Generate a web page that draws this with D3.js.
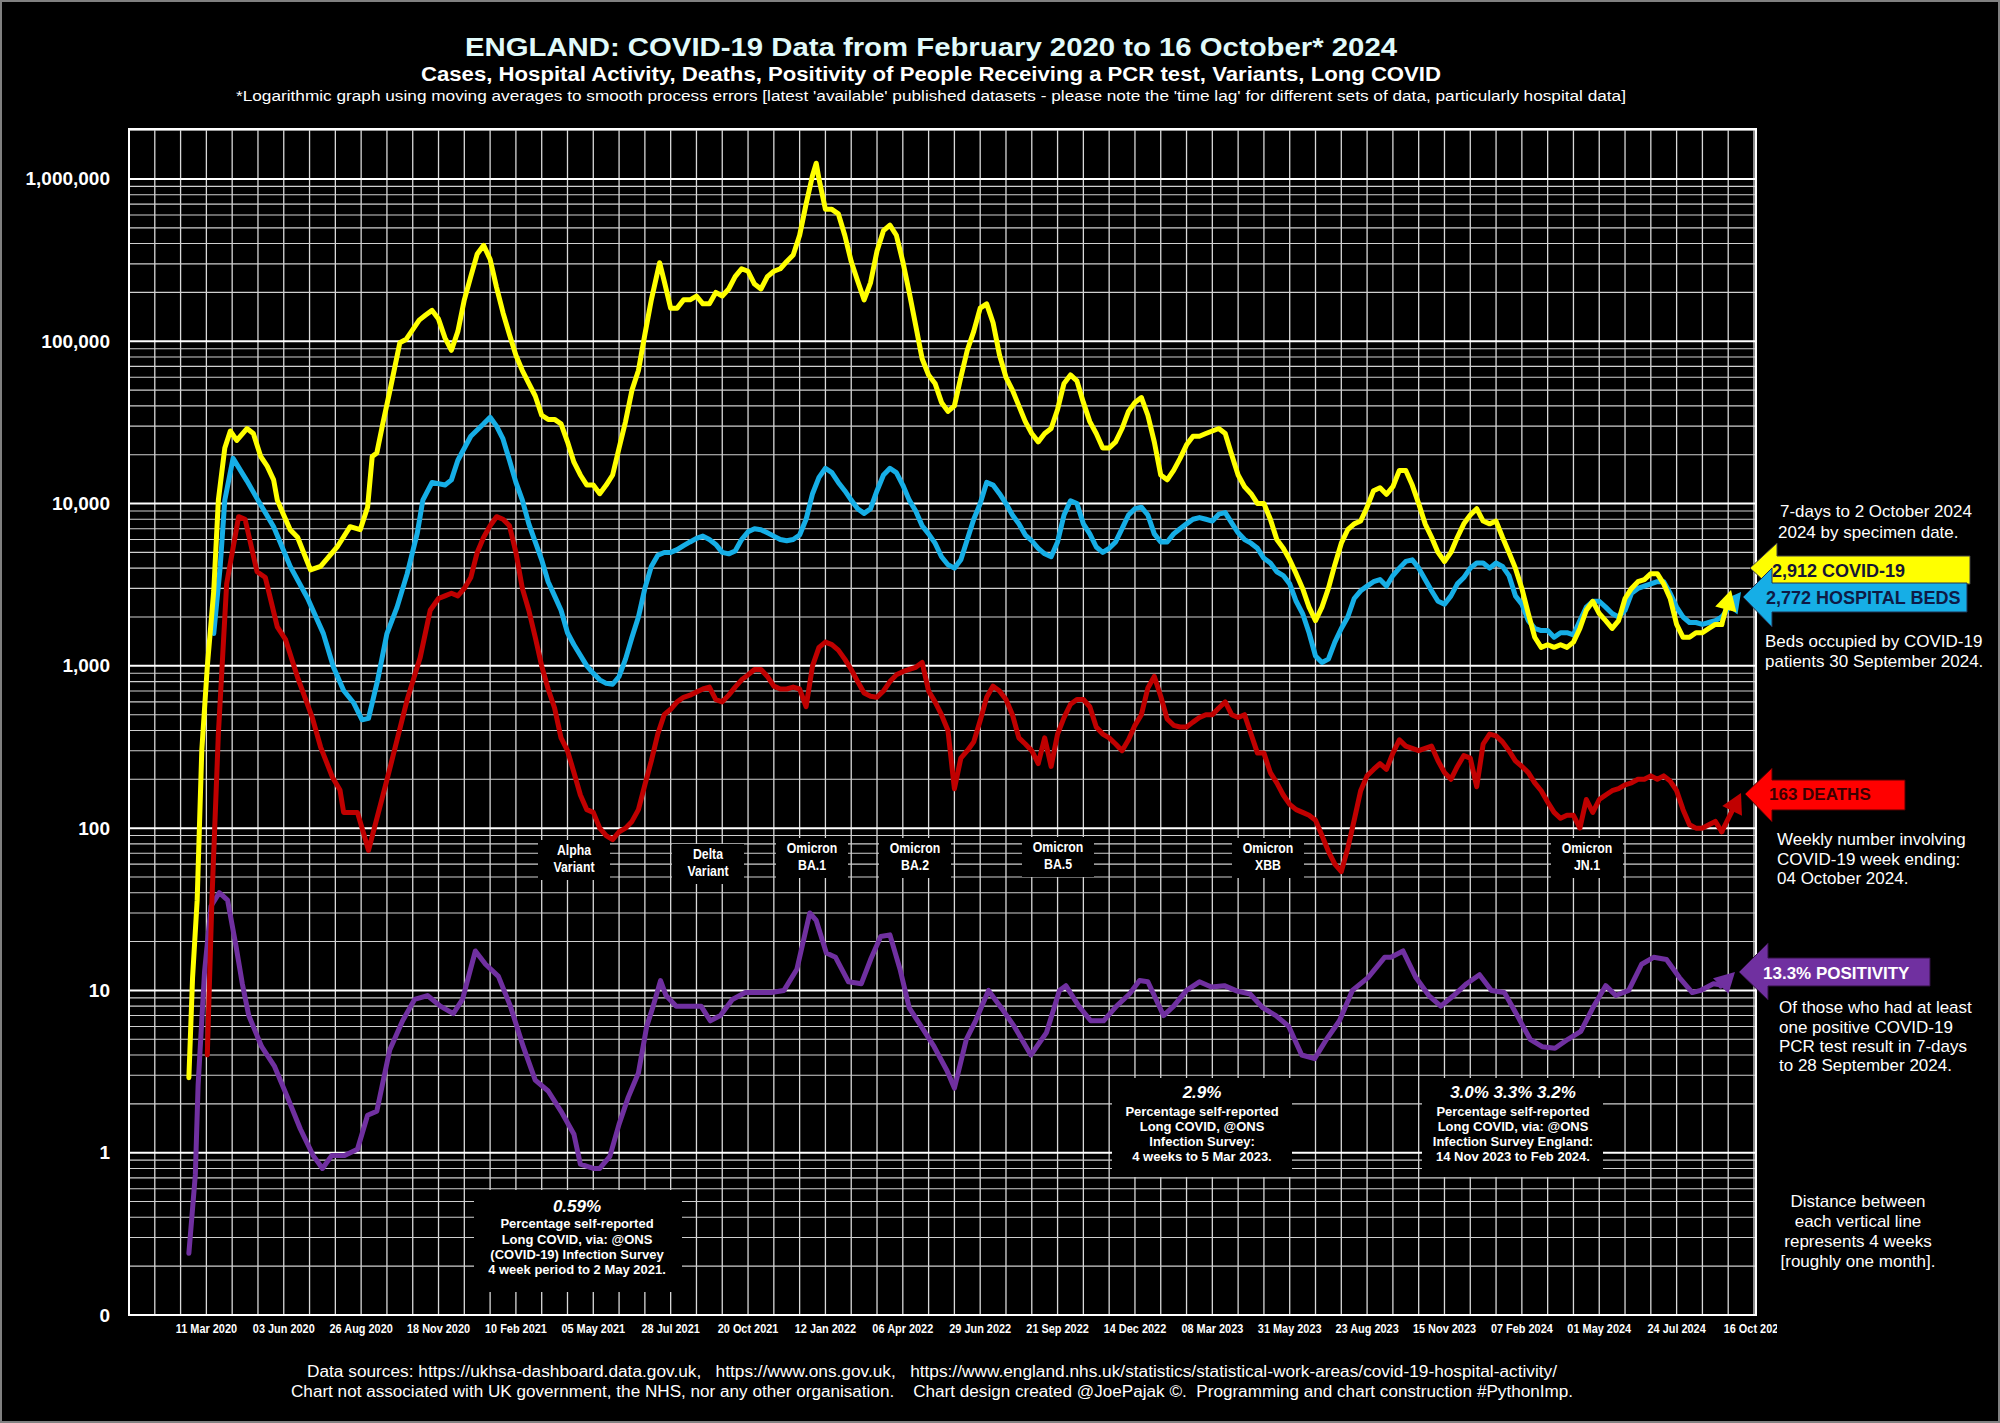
<!DOCTYPE html>
<html><head><meta charset="utf-8">
<script src="https://cdn.jsdelivr.net/npm/d3@7"></script>
<style>html,body{margin:0;padding:0;background:#000;} svg{display:block;}</style>
</head><body><svg id="chart" width="2000" height="1423"></svg>
<script>
const cases = [["2020-02-21",2.9],["2020-02-25",12],["2020-03-01",36],["2020-03-06",300],["2020-03-12",990],["2020-03-19",2900],["2020-03-24",10500],["2020-03-31",22000],["2020-04-06",28000],["2020-04-13",24500],["2020-04-24",29000],["2020-05-01",27000],["2020-05-09",19500],["2020-05-16",17000],["2020-05-23",14000],["2020-05-27",10500],["2020-06-01",9000],["2020-06-10",6900],["2020-06-18",6200],["2020-07-02",3900],["2020-07-13",4100],["2020-07-31",5400],["2020-08-14",7200],["2020-08-25",6900],["2020-09-02",9500],["2020-09-07",19500],["2020-09-12",20500],["2020-09-19",32000],["2020-09-27",52000],["2020-10-07",98000],["2020-10-14",103000],["2020-10-21",118000],["2020-10-28",135000],["2020-11-04",145000],["2020-11-11",155000],["2020-11-18",137000],["2020-11-25",105000],["2020-12-02",88000],["2020-12-09",115000],["2020-12-16",180000],["2020-12-23",250000],["2020-12-30",345000],["2021-01-06",390000],["2021-01-13",320000],["2021-01-20",215000],["2021-01-27",150000],["2021-02-03",110000],["2021-02-10",82000],["2021-02-17",66000],["2021-02-24",55000],["2021-03-03",46000],["2021-03-10",35000],["2021-03-17",33000],["2021-03-24",33000],["2021-03-31",31000],["2021-04-07",24000],["2021-04-14",18000],["2021-04-21",15000],["2021-04-28",13000],["2021-05-05",13000],["2021-05-12",11500],["2021-05-19",13000],["2021-05-26",15000],["2021-06-02",22000],["2021-06-09",32000],["2021-06-16",50000],["2021-06-23",66000],["2021-06-30",110000],["2021-07-07",180000],["2021-07-16",305000],["2021-07-21",235000],["2021-07-28",160000],["2021-08-04",160000],["2021-08-11",180000],["2021-08-18",180000],["2021-08-25",190000],["2021-09-01",170000],["2021-09-08",170000],["2021-09-15",200000],["2021-09-22",190000],["2021-09-29",210000],["2021-10-06",250000],["2021-10-13",280000],["2021-10-20",270000],["2021-10-27",225000],["2021-11-03",210000],["2021-11-10",250000],["2021-11-17",270000],["2021-11-24",280000],["2021-12-01",310000],["2021-12-08",340000],["2021-12-15",450000],["2021-12-22",700000],["2021-12-29",1050000],["2022-01-02",1250000],["2022-01-05",1000000],["2022-01-12",650000],["2022-01-19",650000],["2022-01-26",610000],["2022-02-02",450000],["2022-02-09",310000],["2022-02-16",235000],["2022-02-23",180000],["2022-03-02",230000],["2022-03-09",360000],["2022-03-16",480000],["2022-03-23",520000],["2022-03-30",450000],["2022-04-06",310000],["2022-04-13",200000],["2022-04-20",125000],["2022-04-27",78000],["2022-05-04",62000],["2022-05-11",55000],["2022-05-18",42000],["2022-05-25",37000],["2022-06-01",40000],["2022-06-08",60000],["2022-06-15",88000],["2022-06-22",115000],["2022-06-29",160000],["2022-07-06",170000],["2022-07-13",130000],["2022-07-20",82000],["2022-07-27",60000],["2022-08-03",50000],["2022-08-10",40000],["2022-08-17",32000],["2022-08-24",27000],["2022-08-31",24000],["2022-09-07",27000],["2022-09-14",29000],["2022-09-21",38000],["2022-09-28",55000],["2022-10-05",62000],["2022-10-12",57000],["2022-10-19",42000],["2022-10-26",32000],["2022-11-02",27000],["2022-11-09",22000],["2022-11-16",22000],["2022-11-23",24000],["2022-11-30",29000],["2022-12-07",37000],["2022-12-14",42000],["2022-12-21",45000],["2022-12-28",35000],["2023-01-04",24000],["2023-01-11",15000],["2023-01-18",14000],["2023-01-25",16000],["2023-02-01",19000],["2023-02-08",23000],["2023-02-15",26000],["2023-02-22",26000],["2023-03-01",27000],["2023-03-08",28000],["2023-03-15",29000],["2023-03-22",27000],["2023-03-29",20000],["2023-04-05",15000],["2023-04-12",12700],["2023-04-19",11500],["2023-04-26",10000],["2023-05-03",10000],["2023-05-10",8000],["2023-05-17",6000],["2023-05-24",5300],["2023-05-31",4500],["2023-06-07",3700],["2023-06-14",3000],["2023-06-21",2300],["2023-06-28",1900],["2023-07-05",2300],["2023-07-12",3000],["2023-07-19",4200],["2023-07-26",5700],["2023-08-02",6900],["2023-08-09",7500],["2023-08-16",7800],["2023-08-23",9500],["2023-08-30",12000],["2023-09-06",12500],["2023-09-13",11400],["2023-09-20",12700],["2023-09-27",16000],["2023-10-04",16000],["2023-10-11",13000],["2023-10-18",10000],["2023-10-25",7500],["2023-11-01",6200],["2023-11-08",5000],["2023-11-15",4400],["2023-11-22",5000],["2023-11-29",6200],["2023-12-06",7500],["2023-12-13",8500],["2023-12-20",9300],["2023-12-27",7800],["2024-01-03",7500],["2024-01-10",7800],["2024-01-17",6200],["2024-01-24",5000],["2024-01-31",4000],["2024-02-07",3000],["2024-02-14",2100],["2024-02-21",1500],["2024-02-28",1300],["2024-03-06",1350],["2024-03-13",1300],["2024-03-20",1350],["2024-03-27",1300],["2024-04-03",1400],["2024-04-10",1700],["2024-04-17",2200],["2024-04-24",2500],["2024-05-01",2100],["2024-05-08",1900],["2024-05-15",1700],["2024-05-22",1900],["2024-05-29",2600],["2024-06-05",3000],["2024-06-12",3300],["2024-06-19",3400],["2024-06-26",3700],["2024-07-03",3700],["2024-07-10",3200],["2024-07-17",2600],["2024-07-24",1800],["2024-07-31",1500],["2024-08-07",1500],["2024-08-14",1600],["2024-08-21",1600],["2024-08-28",1700],["2024-09-04",1800],["2024-09-11",1800]];

const beds = [["2020-03-19",1580],["2020-03-26",4100],["2020-03-31",10500],["2020-04-09",19000],["2020-04-24",13800],["2020-05-06",10500],["2020-05-23",7200],["2020-06-10",4100],["2020-06-29",2600],["2020-07-16",1580],["2020-07-27",980],["2020-08-07",705],["2020-08-18",590],["2020-08-27",465],["2020-09-03",475],["2020-09-13",820],["2020-09-23",1580],["2020-10-04",2300],["2020-10-15",3700],["2020-10-26",6600],["2020-11-01",10500],["2020-11-11",13500],["2020-11-25",13000],["2020-12-02",14000],["2020-12-09",18500],["2020-12-23",26000],["2021-01-06",31000],["2021-01-13",34000],["2021-01-20",30000],["2021-01-27",25000],["2021-02-03",18500],["2021-02-10",13500],["2021-02-17",10500],["2021-02-24",7500],["2021-03-03",5800],["2021-03-10",4500],["2021-03-17",3300],["2021-03-24",2700],["2021-03-31",2200],["2021-04-07",1600],["2021-04-14",1350],["2021-04-28",1000],["2021-05-05",900],["2021-05-12",820],["2021-05-19",780],["2021-05-26",770],["2021-06-02",860],["2021-06-09",1100],["2021-06-16",1500],["2021-06-23",2000],["2021-06-30",3000],["2021-07-07",4100],["2021-07-14",4800],["2021-07-21",5000],["2021-07-28",5000],["2021-08-04",5200],["2021-08-11",5500],["2021-08-18",5800],["2021-08-25",6100],["2021-09-01",6300],["2021-09-08",6000],["2021-09-15",5600],["2021-09-22",5000],["2021-09-29",4900],["2021-10-06",5100],["2021-10-13",6000],["2021-10-20",6700],["2021-10-27",7000],["2021-11-03",6900],["2021-11-10",6600],["2021-11-17",6300],["2021-11-24",6000],["2021-12-01",5900],["2021-12-08",6000],["2021-12-15",6400],["2021-12-22",8000],["2021-12-29",11500],["2022-01-05",14500],["2022-01-12",16500],["2022-01-19",15500],["2022-01-26",13500],["2022-02-02",12000],["2022-02-09",10500],["2022-02-16",9300],["2022-02-23",8700],["2022-03-02",9300],["2022-03-09",12000],["2022-03-16",15000],["2022-03-23",16500],["2022-03-30",15500],["2022-04-06",13000],["2022-04-13",10500],["2022-04-20",9000],["2022-04-27",7300],["2022-05-04",6500],["2022-05-11",5700],["2022-05-18",4700],["2022-05-25",4200],["2022-06-01",4000],["2022-06-08",4500],["2022-06-15",6000],["2022-06-22",8000],["2022-06-29",10000],["2022-07-06",13500],["2022-07-13",13000],["2022-07-20",11500],["2022-07-27",10000],["2022-08-03",8500],["2022-08-10",7500],["2022-08-17",6400],["2022-08-24",5900],["2022-08-31",5300],["2022-09-07",4900],["2022-09-14",4700],["2022-09-21",5800],["2022-09-28",8500],["2022-10-05",10400],["2022-10-12",10000],["2022-10-19",7500],["2022-10-26",6500],["2022-11-02",5400],["2022-11-09",5000],["2022-11-16",5300],["2022-11-23",5800],["2022-11-30",7000],["2022-12-07",8500],["2022-12-14",9300],["2022-12-21",9500],["2022-12-28",8500],["2023-01-04",6500],["2023-01-11",5800],["2023-01-18",5800],["2023-01-25",6500],["2023-02-01",7000],["2023-02-08",7500],["2023-02-15",8000],["2023-02-22",8200],["2023-03-01",8000],["2023-03-08",7800],["2023-03-15",8600],["2023-03-22",8800],["2023-03-29",7600],["2023-04-05",6600],["2023-04-12",6000],["2023-04-19",5700],["2023-04-26",5300],["2023-05-03",4600],["2023-05-10",4300],["2023-05-17",3800],["2023-05-24",3600],["2023-05-31",3200],["2023-06-07",2500],["2023-06-14",2100],["2023-06-21",1600],["2023-06-28",1150],["2023-07-05",1050],["2023-07-12",1100],["2023-07-19",1400],["2023-07-26",1700],["2023-08-02",2000],["2023-08-09",2600],["2023-08-16",2900],["2023-08-23",3100],["2023-08-30",3300],["2023-09-06",3400],["2023-09-13",3100],["2023-09-20",3600],["2023-09-27",4000],["2023-10-04",4400],["2023-10-11",4500],["2023-10-18",4000],["2023-10-25",3400],["2023-11-01",2900],["2023-11-08",2500],["2023-11-15",2400],["2023-11-22",2700],["2023-11-29",3200],["2023-12-06",3500],["2023-12-13",4000],["2023-12-20",4300],["2023-12-27",4300],["2024-01-03",4000],["2024-01-10",4300],["2024-01-17",4100],["2024-01-24",3600],["2024-01-31",2700],["2024-02-07",2400],["2024-02-14",1900],["2024-02-21",1700],["2024-02-28",1650],["2024-03-06",1650],["2024-03-13",1500],["2024-03-20",1600],["2024-03-27",1600],["2024-04-03",1550],["2024-04-10",1900],["2024-04-17",2300],["2024-04-24",2500],["2024-05-01",2500],["2024-05-08",2300],["2024-05-15",2100],["2024-05-22",2000],["2024-05-29",2200],["2024-06-05",2800],["2024-06-12",3000],["2024-06-19",3100],["2024-06-26",3200],["2024-07-03",3300],["2024-07-10",3300],["2024-07-17",2800],["2024-07-24",2300],["2024-07-31",2000],["2024-08-07",1850],["2024-08-14",1850],["2024-08-21",1800],["2024-08-28",1850],["2024-09-04",1900],["2024-09-11",2000]];

const deaths = [["2020-03-12",4],["2020-03-17",36],["2020-03-24",380],["2020-04-02",3200],["2020-04-15",8300],["2020-04-22",8000],["2020-05-05",3800],["2020-05-14",3500],["2020-05-27",1740],["2020-06-05",1450],["2020-06-18",850],["2020-07-04",480],["2020-07-13",316],["2020-07-26",205],["2020-08-03",172],["2020-08-07",125],["2020-08-22",125],["2020-09-03",73],["2020-09-23",198],["2020-10-15",620],["2020-10-29",1120],["2020-11-09",2200],["2020-11-18",2600],["2020-11-25",2700],["2020-12-02",2800],["2020-12-09",2700],["2020-12-16",3000],["2020-12-23",3500],["2020-12-30",5000],["2021-01-06",6200],["2021-01-13",7300],["2021-01-20",8300],["2021-01-27",8000],["2021-02-03",7300],["2021-02-10",5000],["2021-02-17",3000],["2021-02-24",2200],["2021-03-03",1500],["2021-03-10",1000],["2021-03-17",720],["2021-03-24",550],["2021-03-31",360],["2021-04-07",300],["2021-04-14",220],["2021-04-21",160],["2021-04-28",130],["2021-05-05",125],["2021-05-12",100],["2021-05-19",90],["2021-05-26",85],["2021-06-02",95],["2021-06-09",100],["2021-06-16",110],["2021-06-23",130],["2021-06-30",185],["2021-07-07",260],["2021-07-14",380],["2021-07-21",500],["2021-07-28",540],["2021-08-04",600],["2021-08-11",640],["2021-08-18",660],["2021-08-25",690],["2021-09-01",720],["2021-09-08",740],["2021-09-15",620],["2021-09-22",600],["2021-09-29",660],["2021-10-06",740],["2021-10-13",820],["2021-10-20",880],["2021-10-27",950],["2021-11-03",950],["2021-11-10",860],["2021-11-17",750],["2021-11-24",720],["2021-12-01",720],["2021-12-08",740],["2021-12-15",720],["2021-12-22",560],["2021-12-29",1000],["2022-01-05",1300],["2022-01-12",1400],["2022-01-19",1350],["2022-01-26",1250],["2022-02-02",1100],["2022-02-09",950],["2022-02-16",800],["2022-02-23",680],["2022-03-02",650],["2022-03-09",640],["2022-03-16",700],["2022-03-23",800],["2022-03-30",880],["2022-04-06",920],["2022-04-13",950],["2022-04-20",980],["2022-04-27",1050],["2022-05-04",700],["2022-05-11",600],["2022-05-18",500],["2022-05-25",400],["2022-06-01",175],["2022-06-08",270],["2022-06-15",300],["2022-06-22",340],["2022-06-29",460],["2022-07-06",640],["2022-07-13",750],["2022-07-20",700],["2022-07-27",620],["2022-08-03",500],["2022-08-10",360],["2022-08-17",330],["2022-08-24",300],["2022-08-31",250],["2022-09-07",360],["2022-09-14",240],["2022-09-21",380],["2022-09-28",480],["2022-10-05",580],["2022-10-12",620],["2022-10-19",620],["2022-10-26",560],["2022-11-02",420],["2022-11-09",380],["2022-11-16",360],["2022-11-23",330],["2022-11-30",300],["2022-12-07",350],["2022-12-14",430],["2022-12-21",500],["2022-12-28",730],["2023-01-04",860],["2023-01-11",650],["2023-01-18",470],["2023-01-25",430],["2023-02-01",420],["2023-02-08",420],["2023-02-15",450],["2023-02-22",480],["2023-03-01",500],["2023-03-08",500],["2023-03-15",550],["2023-03-22",600],["2023-03-29",500],["2023-04-05",480],["2023-04-12",500],["2023-04-19",380],["2023-04-26",290],["2023-05-03",290],["2023-05-10",220],["2023-05-17",190],["2023-05-24",160],["2023-05-31",140],["2023-06-07",130],["2023-06-14",125],["2023-06-21",120],["2023-06-28",112],["2023-07-05",90],["2023-07-12",72],["2023-07-19",60],["2023-07-26",54],["2023-08-02",75],["2023-08-09",112],["2023-08-16",170],["2023-08-23",210],["2023-08-30",230],["2023-09-06",250],["2023-09-13",230],["2023-09-20",290],["2023-09-27",350],["2023-10-04",320],["2023-10-11",310],["2023-10-18",300],["2023-10-25",310],["2023-11-01",320],["2023-11-08",260],["2023-11-15",220],["2023-11-22",200],["2023-11-29",240],["2023-12-06",280],["2023-12-13",270],["2023-12-20",180],["2023-12-27",330],["2024-01-03",380],["2024-01-10",370],["2024-01-17",340],["2024-01-24",300],["2024-01-31",260],["2024-02-07",240],["2024-02-14",220],["2024-02-21",190],["2024-02-28",170],["2024-03-06",145],["2024-03-13",125],["2024-03-20",115],["2024-03-27",120],["2024-04-03",120],["2024-04-10",100],["2024-04-17",150],["2024-04-24",125],["2024-05-01",150],["2024-05-08",160],["2024-05-15",170],["2024-05-22",175],["2024-05-29",185],["2024-06-05",190],["2024-06-12",200],["2024-06-19",200],["2024-06-26",210],["2024-07-03",200],["2024-07-10",210],["2024-07-17",195],["2024-07-24",170],["2024-07-31",130],["2024-08-07",105],["2024-08-14",100],["2024-08-21",100],["2024-08-28",105],["2024-09-04",110],["2024-09-11",95]];

const positivity = [["2020-02-21",0.24],["2020-02-28",0.73],["2020-03-02",2.6],["2020-03-09",13],["2020-03-16",33],["2020-03-25",40],["2020-04-03",36],["2020-04-12",19],["2020-04-19",11],["2020-04-26",7],["2020-05-10",4.5],["2020-05-24",3.4],["2020-06-07",2.2],["2020-06-21",1.4],["2020-07-05",0.96],["2020-07-15",0.8],["2020-07-25",0.96],["2020-08-08",0.96],["2020-08-22",1.05],["2020-09-02",1.7],["2020-09-12",1.8],["2020-09-26",4.3],["2020-10-10",6.5],["2020-10-23",8.8],["2020-11-06",9.3],["2020-11-20",8],["2020-12-04",7.2],["2020-12-14",8.8],["2020-12-28",17.5],["2021-01-08",14.5],["2021-01-22",12.2],["2021-02-04",8],["2021-02-18",4.5],["2021-03-03",2.8],["2021-03-17",2.4],["2021-03-31",1.8],["2021-04-14",1.3],["2021-04-21",0.85],["2021-05-05",0.8],["2021-05-12",0.8],["2021-05-23",0.95],["2021-06-02",1.5],["2021-06-12",2.2],["2021-06-23",3.1],["2021-07-02",6],["2021-07-09",8],["2021-07-17",11.5],["2021-07-23",9.3],["2021-08-03",8],["2021-08-16",8],["2021-08-30",8],["2021-09-09",6.5],["2021-09-20",7],["2021-10-03",8.8],["2021-10-17",9.7],["2021-10-31",9.7],["2021-11-14",9.7],["2021-11-28",10],["2021-12-12",13.5],["2021-12-26",30],["2022-01-02",27],["2022-01-13",17],["2022-01-23",16],["2022-02-06",11.3],["2022-02-20",11],["2022-03-02",15.5],["2022-03-13",21.5],["2022-03-23",22],["2022-04-03",13.5],["2022-04-13",7.8],["2022-04-26",6],["2022-05-10",4.5],["2022-05-24",3.2],["2022-06-01",2.5],["2022-06-14",5],["2022-06-24",6.5],["2022-07-08",10],["2022-07-22",7.8],["2022-08-05",6],["2022-08-23",4],["2022-09-09",5.5],["2022-09-23",10],["2022-09-30",10.7],["2022-10-14",8],["2022-10-27",6.5],["2022-11-10",6.5],["2022-11-24",8],["2022-12-08",9.5],["2022-12-19",11.5],["2022-12-28",11.3],["2023-01-14",7],["2023-01-25",8],["2023-02-08",10],["2023-02-22",11.3],["2023-03-07",10.5],["2023-03-21",10.7],["2023-04-04",9.9],["2023-04-18",9.5],["2023-05-02",7.8],["2023-05-16",7],["2023-05-30",6],["2023-06-13",4],["2023-06-27",3.8],["2023-07-10",5],["2023-07-24",6.5],["2023-08-07",10],["2023-08-24",12],["2023-09-11",16],["2023-09-18",16],["2023-10-01",17.5],["2023-10-15",12],["2023-10-29",9.3],["2023-11-11",8],["2023-11-25",9.3],["2023-12-09",11],["2023-12-23",12.5],["2024-01-05",10],["2024-01-19",9.7],["2024-02-02",7],["2024-02-16",5],["2024-02-29",4.5],["2024-03-14",4.4],["2024-03-28",5],["2024-04-11",5.6],["2024-04-25",8],["2024-05-08",10.7],["2024-05-19",9.3],["2024-06-02",10],["2024-06-16",14.5],["2024-06-29",16],["2024-07-13",15.5],["2024-07-27",12],["2024-08-10",9.7],["2024-08-19",10],["2024-09-02",11],["2024-09-11",10.8]];

const xTickDates = ["2020-03-11","2020-06-03","2020-08-26","2020-11-18","2021-02-10","2021-05-05","2021-07-28","2021-10-20","2022-01-12","2022-04-06","2022-06-29","2022-09-21","2022-12-14","2023-03-08","2023-05-31","2023-08-23","2023-11-15","2024-02-07","2024-05-01","2024-07-24","2024-10-16"];
const xTickLabels = ["11 Mar 2020","03 Jun 2020","26 Aug 2020","18 Nov 2020","10 Feb 2021","05 May 2021","28 Jul 2021","20 Oct 2021","12 Jan 2022","06 Apr 2022","29 Jun 2022","21 Sep 2022","14 Dec 2022","08 Mar 2023","31 May 2023","23 Aug 2023","15 Nov 2023","07 Feb 2024","01 May 2024","24 Jul 2024","16 Oct 2024"];
const yTickValues = [1000000,100000,10000,1000,100,10,1,0.1];
const yTickLabels = ["1,000,000","100,000","10,000","1,000","100","10","1","0"];
const variantNames = [["Alpha","Variant"],["Delta","Variant"],["Omicron","BA.1"],["Omicron","BA.2"],["Omicron","BA.5"],["Omicron","XBB"],["Omicron","JN.1"]];
const longCovidTexts = [
  ["0.59%","Percentage self-reported","Long COVID, via: @ONS","(COVID-19) Infection Survey","4 week period to 2 May 2021."],
  ["2.9%","Percentage self-reported","Long COVID, @ONS","Infection Survey:","4 weeks to 5 Mar 2023."],
  ["3.0% 3.3% 3.2%","Percentage self-reported","Long COVID, via: @ONS","Infection Survey England:","14 Nov 2023  to Feb 2024."]
];

const W = 2000, H = 1423;
const FONT = "'Liberation Sans', Arial, Helvetica, sans-serif";
const parse = d3.utcParse("%Y-%m-%d");
const svg = d3.select("#chart").style("font-family", FONT);
svg.append("rect").attr("width", W).attr("height", H).attr("fill", "#000");
svg.append("rect").attr("x", 1).attr("y", 1).attr("width", W - 2).attr("height", H - 2)
  .attr("fill", "none").attr("stroke", "#808080").attr("stroke-width", 2);
svg.append("defs").append("clipPath").attr("id", "tickclip").append("rect")
  .attr("x", 0).attr("y", 1300).attr("width", 1777).attr("height", 60);

const P = {left: 129, right: 1756, top: 129, bottom: 1315};
const x = d3.scaleUtc().domain([parse("2019-12-18"), parse("2024-10-16")]).range([129, 1754]);
const y = d3.scaleLog().domain([0.1, Math.pow(10, 6.308)]).range([P.bottom, P.top]);

// grid
const grid = svg.append("g");
const vlines = d3.range(64).map(i => d3.utcDay.offset(x.domain()[0], 28 * i));
grid.selectAll("line.v").data(vlines).join("line")
  .attr("x1", d => x(d)).attr("x2", d => x(d)).attr("y1", P.top).attr("y2", P.bottom)
  .attr("stroke", "#d9d9d9").attr("stroke-width", 1.3);
const hticks = y.ticks();
const isMajor = d => Math.abs(Math.log10(d) - Math.round(Math.log10(d))) < 1e-6;
grid.selectAll("line.h").data(hticks).join("line")
  .attr("x1", P.left).attr("x2", P.right).attr("y1", d => y(d)).attr("y2", d => y(d))
  .attr("stroke", d => isMajor(d) ? "#ffffff" : "#cfcfcf")
  .attr("stroke-width", d => isMajor(d) ? 2 : 1.1);
svg.append("rect").attr("x", P.left).attr("y", P.top).attr("width", P.right - P.left).attr("height", P.bottom - P.top)
  .attr("fill", "none").attr("stroke", "#fff").attr("stroke-width", 2);

// y labels
svg.append("g").selectAll("text").data(yTickValues).join("text")
  .attr("x", 110).attr("y", d => y(d)).attr("text-anchor", "end").attr("dominant-baseline", "central")
  .attr("fill", "#fff").attr("font-weight", "bold").attr("font-size", 19)
  .text((d, i) => yTickLabels[i]);

// x labels
svg.append("g").attr("clip-path", "url(#tickclip)").selectAll("text").data(xTickDates).join("text")
  .attr("transform", d => `translate(${x(parse(d))},1333) scale(0.84,1)`)
  .attr("text-anchor", "middle").attr("fill", "#fff").attr("font-weight", "bold").attr("font-size", 13)
  .text((d, i) => xTickLabels[i]);

// variant boxes
const variantPos = [[574, 855], [708, 859], [812, 853], [915, 853], [1058, 852], [1268, 853], [1587, 853]];
const vg = svg.append("g");
variantNames.forEach((nm, i) => {
  const [cx, by] = variantPos[i];
  vg.append("rect").attr("x", cx - 36).attr("y", by - 15).attr("width", 72).attr("height", 40).attr("fill", "#000");
  nm.forEach((t, j) => {
    vg.append("text").attr("transform", `translate(${cx},${by + j * 17}) scale(0.82,1)`)
      .attr("text-anchor", "middle").attr("fill", "#fff").attr("font-weight", "bold").attr("font-size", 15).text(t);
  });
});

// long covid boxes
const lcBoxes = [
  {x0: 474, x1: 682, y0: 1190, y1: 1292, cx: 577, b: [1212, 1228, 1244, 1259, 1274]},
  {x0: 1112, x1: 1292, y0: 1078, y1: 1177, cx: 1202, b: [1098, 1116, 1131, 1146, 1161]},
  {x0: 1422, x1: 1603, y0: 1078, y1: 1177, cx: 1513, b: [1098, 1116, 1131, 1146, 1161]}
];
const lg = svg.append("g");
lcBoxes.forEach((bx, i) => {
  lg.append("rect").attr("x", bx.x0).attr("y", bx.y0).attr("width", bx.x1 - bx.x0).attr("height", bx.y1 - bx.y0).attr("fill", "#000");
  longCovidTexts[i].forEach((t, j) => {
    lg.append("text").attr("x", bx.cx).attr("y", bx.b[j]).attr("text-anchor", "middle").attr("fill", "#fff")
      .attr("font-weight", "bold").attr("font-style", j === 0 ? "italic" : "normal")
      .attr("font-size", j === 0 ? 17 : 13).text(t);
  });
});

// data lines
const line = d3.line().x(d => x(parse(d[0]))).y(d => y(d[1])).curve(d3.curveLinear);
const series = [
  {data: positivity, color: "#7030a0", tip: [1735, 972]},
  {data: deaths, color: "#c00000", tip: [1741, 793]},
  {data: beds, color: "#16aee6", tip: [1741, 592]},
  {data: cases, color: "#ffff00", tip: [1731, 590]}
];
const dl = svg.append("g");
series.forEach(s => {
  dl.append("path").datum(s.data).attr("d", line).attr("fill", "none").attr("stroke", s.color)
    .attr("stroke-width", 5).attr("stroke-linejoin", "round").attr("stroke-linecap", "round");
});
// end arrows
series.forEach(s => {
  const last = s.data[s.data.length - 1];
  const px = x(parse(last[0])), py = y(last[1]);
  const [tx, ty] = s.tip;
  const dx = tx - px, dy = ty - py, L = Math.hypot(dx, dy), ux = dx / L, uy = dy / L;
  const hl = 20, hw = 11;
  const bx = tx - ux * hl, by = ty - uy * hl;
  dl.append("line").attr("x1", px).attr("y1", py).attr("x2", bx).attr("y2", by)
    .attr("stroke", s.color).attr("stroke-width", 5).attr("stroke-linecap", "round");
  dl.append("polygon").attr("points", [[tx, ty], [bx - uy * hw, by + ux * hw], [bx + uy * hw, by - ux * hw]].map(p => p.join(",")).join(" "))
    .attr("fill", s.color);
});

// big arrows
function bigArrow(pts, fill, stroke) {
  svg.append("polygon").attr("points", pts.map(p => p.join(",")).join(" ")).attr("fill", fill)
    .attr("stroke", stroke).attr("stroke-width", 1);
}
bigArrow([[1750, 568], [1777, 543], [1777, 556], [1970, 556], [1970, 584], [1777, 584], [1777, 593]], "#ffff00", "#404040");
bigArrow([[1743, 597], [1772, 568], [1772, 583], [1967, 583], [1967, 612], [1772, 612], [1772, 627]], "#16aee6", "#203050");
bigArrow([[1745, 794], [1772, 768], [1772, 780], [1905, 780], [1905, 810], [1772, 810], [1772, 822]], "#ff0000", "#500000");
bigArrow([[1739, 972], [1768, 943], [1768, 958], [1930, 958], [1930, 986], [1768, 986], [1768, 1000]], "#7030a0", "#301040");

function txt(xp, yp, t, opts = {}) {
  return svg.append("text").attr("x", xp).attr("y", yp).attr("fill", opts.fill || "#fff")
    .attr("font-size", opts.size || 17).attr("font-weight", opts.weight || "normal")
    .attr("text-anchor", opts.anchor || "start").text(t);
}
txt(1772, 577, "2,912 COVID-19", {fill: "#151535", size: 18, weight: "bold"});
txt(1766, 604, "2,772 HOSPITAL BEDS", {fill: "#0e1a45", size: 18, weight: "bold"});
txt(1769, 800, "163 DEATHS", {fill: "#3a0000", size: 17, weight: "bold"});
txt(1763, 979, "13.3% POSITIVITY", {fill: "#fff", size: 17, weight: "bold"});

txt(1780, 517, "7-days to 2 October 2024");
txt(1778, 538, "2024 by specimen date.");
txt(1765, 647, "Beds occupied by COVID-19");
txt(1765, 667, "patients 30 September 2024.");
txt(1777, 845, "Weekly number involving");
txt(1777, 865, "COVID-19 week ending:");
txt(1777, 884, "04 October 2024.");
txt(1779, 1013, "Of those who had at least");
txt(1779, 1033, "one positive COVID-19");
txt(1779, 1052, "PCR test result in 7-days");
txt(1779, 1071, "to 28 September 2024.");
txt(1858, 1207, "Distance between", {anchor: "middle"});
txt(1858, 1227, "each vertical line", {anchor: "middle"});
txt(1858, 1247, "represents 4 weeks", {anchor: "middle"});
txt(1858, 1267, "[roughly one month].", {anchor: "middle"});

// titles
txt(931, 56, "ENGLAND: COVID-19 Data from February 2020 to 16 October* 2024", {fill: "#e0fafa", size: 26, weight: "bold", anchor: "middle"})
  .attr("textLength", 932).attr("lengthAdjust", "spacingAndGlyphs");
txt(931, 81, "Cases, Hospital Activity, Deaths, Positivity of People Receiving a PCR test, Variants, Long COVID", {size: 20, weight: "bold", anchor: "middle"})
  .attr("textLength", 1020).attr("lengthAdjust", "spacingAndGlyphs");
txt(931, 101, "*Logarithmic graph using moving averages to smooth process errors [latest 'available' published datasets - please note the 'time lag' for different sets of data, particularly hospital data]", {size: 15.5, anchor: "middle"})
  .attr("textLength", 1390).attr("lengthAdjust", "spacingAndGlyphs");

// footer
txt(932, 1377, "Data sources: https://ukhsa-dashboard.data.gov.uk,   https://www.ons.gov.uk,   https://www.england.nhs.uk/statistics/statistical-work-areas/covid-19-hospital-activity/", {size: 16, anchor: "middle"})
  .attr("textLength", 1250).attr("lengthAdjust", "spacingAndGlyphs").style("white-space", "pre");
txt(932, 1397, "Chart not associated with UK government, the NHS, nor any other organisation.    Chart design created @JoePajak \u00A9.  Programming and chart construction #PythonImp.", {size: 16, anchor: "middle"})
  .attr("textLength", 1282).attr("lengthAdjust", "spacingAndGlyphs").style("white-space", "pre");
</script></body></html>
